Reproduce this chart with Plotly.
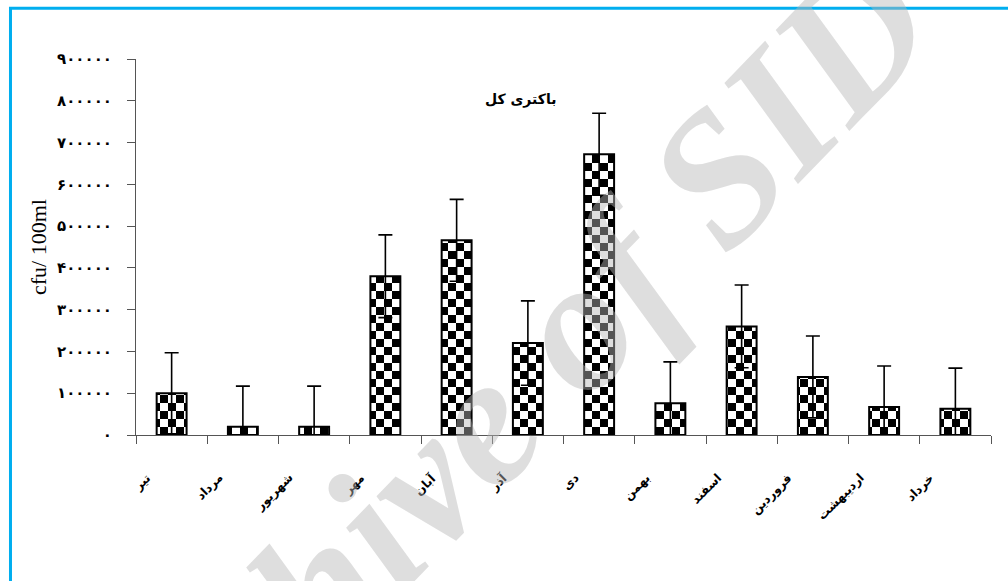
import plotly.graph_objects as go

# Persian month names (categories), mean counts and standard deviations
months = ["تیر", "مرداد", "شهریور", "مهر", "آبان", "آذر",
          "دی", "بهمن", "اسفند", "فروردین", "اردیبهشت", "خرداد"]
counts = [100000, 20000, 20000, 380000, 466000, 220000,
          672000, 76000, 260000, 139000, 67000, 63000]
errors = [97000, 97000, 97000, 99000, 98000, 101000,
          98000, 99000, 99000, 98000, 98000, 97000]

y_tick_values = [0, 100000, 200000, 300000, 400000, 500000,
                 600000, 700000, 800000, 900000]
y_tick_labels = ["۰", "۱۰۰۰۰۰", "۲۰۰۰۰۰", "۳۰۰۰۰۰", "۴۰۰۰۰۰", "۵۰۰۰۰۰",
                 "۶۰۰۰۰۰", "۷۰۰۰۰۰", "۸۰۰۰۰۰", "۹۰۰۰۰۰"]

chart_title = "باکتری کل"
y_title = "cfu/ 100ml"
watermark = "Archive of SID"

FA_FONT = "DejaVu Sans"
AXIS_COLOR = "#555555"

fig = go.Figure()
fig.add_trace(go.Bar(
    x=months,
    y=counts,
    width=0.42,
    marker=dict(
        color="white",
        line=dict(color="black", width=2),
        pattern=dict(shape="+", fgcolor="black", bgcolor="white",
                     size=16, solidity=0.5),
    ),
    error_y=dict(type="data", array=errors, symmetric=True,
                 color="black", thickness=1.6, width=7),
    showlegend=False,
))

annotations = []
# rotated month labels under the axis
for m in months:
    annotations.append(dict(
        x=m, xref="x", y=0, yref="paper",
        text=m, showarrow=False, textangle=-45,
        xanchor="right", yanchor="top", xshift=-15, yshift=-33,
        font=dict(family=FA_FONT, size=12, color="black", weight="bold"),
    ))

# chart title inside the plot area
annotations.append(dict(
    x=0.450, y=0.891, xref="paper", yref="paper",
    text=chart_title, showarrow=False,
    xanchor="center", yanchor="middle",
    font=dict(family=FA_FONT, size=14, color="black", weight="bold"),
))

# vertical unit label
annotations.append(dict(
    x=-0.1146, y=0.5, xref="paper", yref="paper",
    text=y_title, showarrow=False, textangle=-90,
    xanchor="center", yanchor="middle",
    font=dict(family="Liberation Serif", size=22, color="black"),
))

# diagonal watermark laid over the chart
annotations.append(dict(
    x=0.413, y=0.06, xref="paper", yref="paper",
    text=watermark, showarrow=False, textangle=-46,
    xanchor="center", yanchor="middle",
    font=dict(family="Liberation Serif", size=188,
              color="rgba(184,184,184,0.46)", weight="bold", style="italic"),
))

fig.update_layout(
    width=1008, height=581,
    margin=dict(l=136, r=17, t=59, b=146),
    paper_bgcolor="white", plot_bgcolor="white",
    annotations=annotations,
    shapes=[dict(
        type="rect", xref="paper", yref="paper",
        x0=-0.1468, x1=1.05, y0=-0.45, y1=1.135,
        line=dict(color="#00AEEF", width=3), fillcolor="rgba(0,0,0,0)",
        layer="above",
    )],
)

fig.update_xaxes(
    range=[-0.5, 11.5],
    showticklabels=False,
    showline=True, linecolor=AXIS_COLOR, linewidth=1,
    ticks="outside", ticklen=8, tickcolor=AXIS_COLOR, tickwidth=1,
    tickson="boundaries",
    showgrid=False, zeroline=False,
)
fig.update_yaxes(
    range=[0, 900000],
    tickvals=y_tick_values, ticktext=y_tick_labels,
    showline=True, linecolor=AXIS_COLOR, linewidth=1,
    ticks="outside", ticklen=8, tickcolor=AXIS_COLOR, tickwidth=1,
    ticklabelstandoff=12,
    tickfont=dict(family=FA_FONT, size=15, color="black", weight="bold"),
    showgrid=False, zeroline=False,
)

# Replace the bar fill pattern with a black/white checkerboard
checker_js = """
var gd = document.getElementById('{plot_id}');
function checker() {
  var ns = 'http://www.w3.org/2000/svg';
  var pats = gd.querySelectorAll('defs pattern');
  pats.forEach(function (p) {
    var s = 8;
    p.setAttribute('width', 2 * s);
    p.setAttribute('height', 2 * s);
    p.setAttribute('patternUnits', 'userSpaceOnUse');
    p.removeAttribute('patternTransform');
    while (p.firstChild) { p.removeChild(p.firstChild); }
    [[0, 0, '#ffffff'], [s, 0, '#000000'], [0, s, '#000000'], [s, s, '#ffffff']].forEach(function (c) {
      var r = document.createElementNS(ns, 'rect');
      r.setAttribute('x', c[0]); r.setAttribute('y', c[1]);
      r.setAttribute('width', s); r.setAttribute('height', s);
      r.setAttribute('fill', c[2]);
      p.appendChild(r);
    });
  });
}
checker();
gd.on('plotly_afterplot', checker);
"""

fig.write_html("out.html", post_script=checker_js)
